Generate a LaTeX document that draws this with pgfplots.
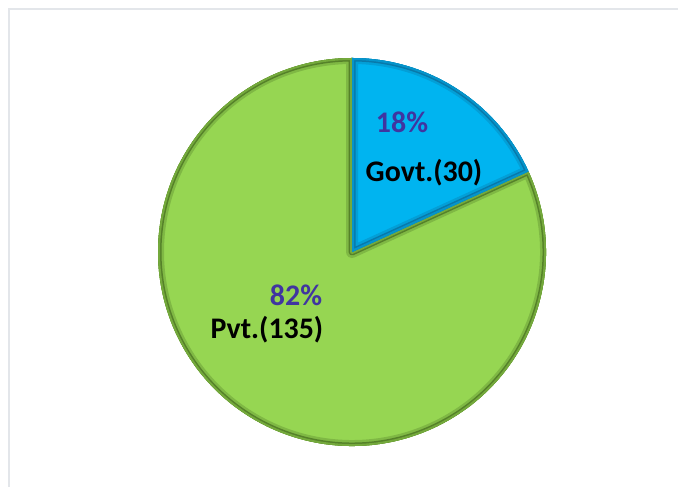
\documentclass[border=0pt]{standalone}
\usepackage{fontspec}
\setmainfont{Carlito}
\usepackage{pgfplots}
\usepackage{pgfplotstable}
\pgfplotsset{compat=1.18}

\definecolor{govtfill}{HTML}{00B4F0}
\definecolor{govtdark}{HTML}{0A6E9E}
\definecolor{pvtfill}{HTML}{96D652}
\definecolor{pvtdark}{HTML}{4A7222}
\definecolor{pctcol}{HTML}{4035A0}
\definecolor{framecol}{HTML}{E3E6EA}

% slice sizes
\pgfplotstableread{
name value
Govt 30
Pvt 135
}\piedata

\newcommand\slice[2]{(axis cs:352,235) -- ++(#1:194bp) arc[start angle=#1, end angle=#2, radius=194bp] -- cycle}
\newcommand\bevel[4]{% start, end, fill, dark
  \fill[#3] \slice{#1}{#2};
  \begin{scope}
    \clip \slice{#1}{#2};
    \draw[#4!30!#3, line width=12bp, line join=round] \slice{#1}{#2};
    \draw[#4!85!#3, line width=7bp, line join=round] \slice{#1}{#2};
    \draw[#4!45!#3, line width=4bp, line join=round] \slice{#1}{#2};
  \end{scope}}

\begin{document}
\begin{tikzpicture}
\pgfplotstablegetelem{0}{value}\of\piedata \let\govt\pgfplotsretval
\pgfplotstablegetelem{1}{value}\of\piedata \let\pvt\pgfplotsretval
\pgfmathsetmacro\total{\govt+\pvt}
\pgfmathsetmacro\split{90-360*\govt/\total}
\pgfmathtruncatemacro\govtpct{round(100*\govt/\total)}
\pgfmathtruncatemacro\pvtpct{round(100*\pvt/\total)}
\begin{axis}[
  x=1bp, y=1bp,
  xmin=0, xmax=678, ymin=0, ymax=487,
  hide axis, clip=false,
]
\addplot[draw=none] coordinates {(0,0) (678,487)};
\coordinate (ll) at (axis cs:0,0);
\coordinate (ur) at (axis cs:678,487);
\draw[framecol, line width=2bp] (axis cs:9,0) -- (axis cs:9,478) -- (axis cs:678,478);

\bevel{\split}{-270}{pvtfill}{pvtdark}
\bevel{90}{\split}{govtfill}{govtdark}

\node[font=\bfseries\fontsize{30}{36}\selectfont, text=pctcol] at (axis cs:402,365) {\govtpct\%};
\node[font=\bfseries\fontsize{30}{36}\selectfont] at (axis cs:424,314) {Govt.(\govt)};
\node[font=\bfseries\fontsize{30}{36}\selectfont, text=pctcol] at (axis cs:296,192) {\pvtpct\%};
\node[font=\bfseries\fontsize{30}{36}\selectfont] at (axis cs:267,157) {Pvt.(\pvt)};
\end{axis}
\pgfresetboundingbox
\path[use as bounding box] (ll) rectangle (ur);
\end{tikzpicture}
\end{document}
